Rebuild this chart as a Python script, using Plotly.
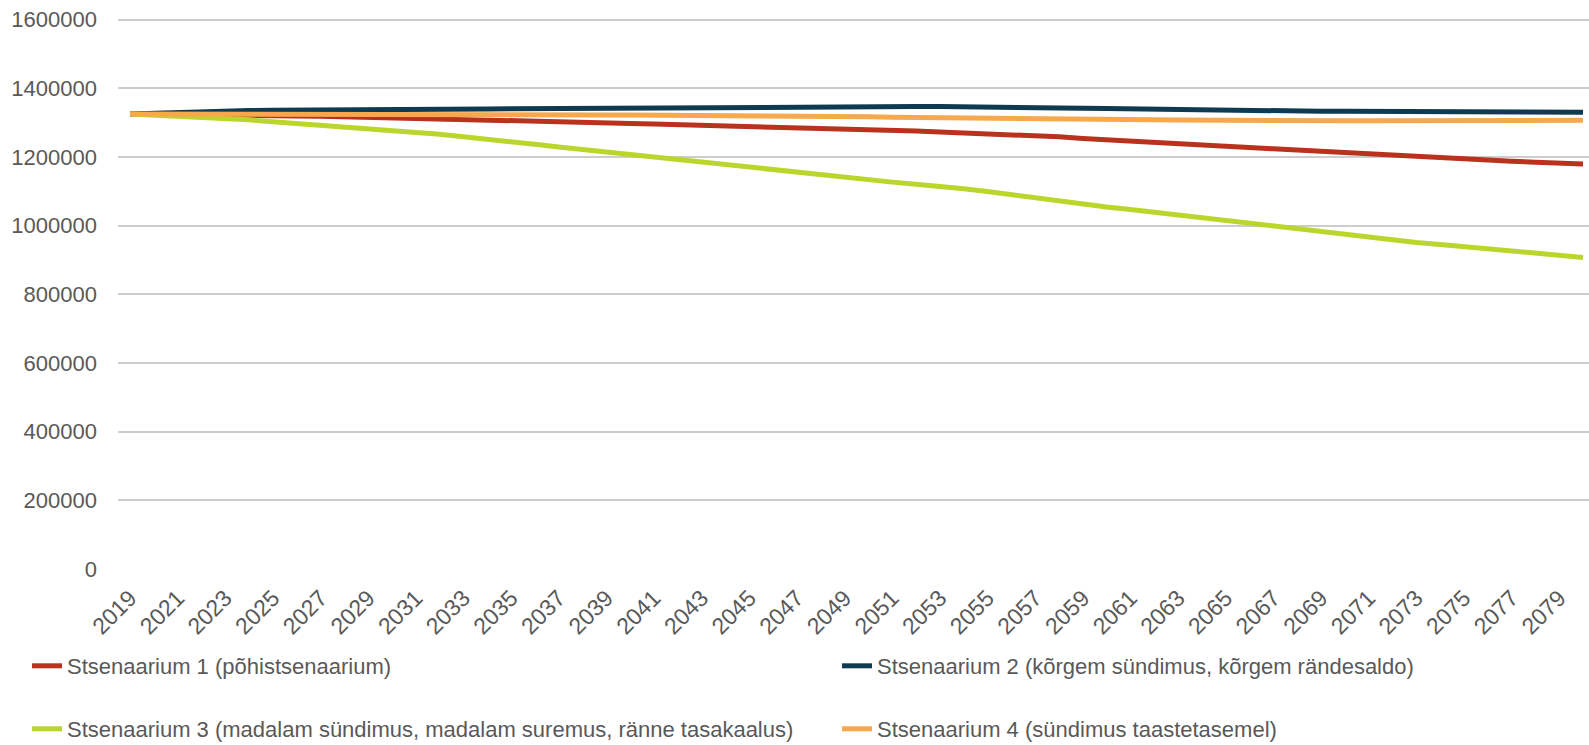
import plotly.graph_objects as go

years = list(range(2019, 2081))

s1_pohistsenaarium = [
    1324820, 1324500, 1324000, 1323300, 1322500, 1321500, 1320400, 1319200, 1318000, 1316700,
    1315400, 1314000, 1312700, 1311300, 1309900, 1308400, 1306800, 1305000, 1303000, 1301000,
    1299300, 1297500, 1295800, 1294200, 1292800, 1291200, 1289400, 1287400, 1285300, 1283200,
    1281300, 1279500, 1277400, 1275000, 1272600, 1270100, 1267500, 1264700, 1261600, 1258300,
    1253500, 1249300, 1245500, 1242500, 1237500, 1233800, 1230900, 1227400, 1223400, 1220000,
    1216000, 1212400, 1209000, 1205500, 1200600, 1197000, 1193500, 1190000, 1187200, 1184500,
    1182000, 1179400,
]

s2_korgem = [
    1324820, 1327500, 1330000, 1332000, 1333500, 1334800, 1335800, 1336600, 1337300, 1337900,
    1338400, 1338700, 1339000, 1339200, 1339300, 1339500, 1339800, 1340300, 1341000, 1341800,
    1342600, 1343300, 1344000, 1344700, 1345300, 1345800, 1346200, 1346500, 1346700, 1346800,
    1346800, 1346800, 1346700, 1346600, 1346500, 1346200, 1345700, 1344600, 1343400, 1342500,
    1341800, 1340500, 1339300, 1338400, 1337300, 1336200, 1335200, 1334500, 1333900, 1333400,
    1332900, 1332500, 1332100, 1331600, 1330400, 1329900, 1329700, 1329600, 1329600, 1329700,
    1329800, 1329900,
]

s3_madalam = [
    1324820, 1322000, 1319200, 1316400, 1312500, 1307800, 1302600, 1297400, 1292500, 1288000,
    1283800, 1279800, 1274000, 1266000, 1258500, 1250000, 1244000, 1236500, 1229000, 1221500,
    1214000, 1206800, 1199000, 1191000, 1183000, 1176000, 1169500, 1162000, 1156000, 1147000,
    1138500, 1132500, 1126500, 1120000, 1114500, 1107000, 1099000, 1090000, 1080500, 1069000,
    1060500, 1054000, 1047000, 1039000, 1029500, 1020500, 1012500, 1004500, 996500, 988000,
    979500, 971500, 965000, 957500, 951000, 945000, 939000, 932500, 926500, 920000,
    913500, 907000,
]

s4_taastetase = [
    1324820, 1324500, 1324200, 1323900, 1323600, 1323300, 1323000, 1322800, 1322600, 1322400,
    1322200, 1322100, 1322000, 1321900, 1321900, 1321900, 1321900, 1321900, 1321900, 1321900,
    1321900, 1321800, 1321700, 1321500, 1321200, 1320900, 1320600, 1320300, 1320000, 1319500,
    1318500, 1317000, 1315500, 1314500, 1314200, 1314000, 1314000, 1313700, 1312800, 1311500,
    1310500, 1310000, 1309200, 1308000, 1307500, 1306800, 1305500, 1305000, 1305000, 1305000,
    1305000, 1305000, 1305000, 1305000, 1305000, 1305000, 1305000, 1305000, 1305000, 1305000,
    1305000, 1306500,
]

names = [
    "Stsenaarium 1 (põhistsenaarium)",
    "Stsenaarium 2 (kõrgem sündimus, kõrgem rändesaldo)",
    "Stsenaarium 3 (madalam sündimus, madalam suremus, ränne tasakaalus)",
    "Stsenaarium 4 (sündimus taastetasemel)",
]
colors = ["#B8321D", "#0F3B52", "#BCD52B", "#F7A84D"]
series = [s1_pohistsenaarium, s2_korgem, s3_madalam, s4_taastetase]
legend_ids = ["legend", "legend2", "legend3", "legend4"]

y_ticks = list(range(0, 1600001, 200000))
x_ticks = years[::2]

FONT = "Liberation Sans, Arial, sans-serif"
TXT = "#595959"

fig = go.Figure()
for name, col, vals, lg in zip(names, colors, series, legend_ids):
    fig.add_trace(go.Scatter(
        x=years, y=vals, name=name, mode="lines",
        line=dict(color=col, width=5),
        legend=lg,
    ))

W, H = 1589, 745
ml, mr, mt, mb = 118, 0, 17, 176
pw = W - ml - mr
ph = H - mt - mb
px_per_year = 23.82
x0 = 2019 - (130 - ml) / px_per_year
x1 = x0 + pw / px_per_year
# y: 0 at pixel 569, 1600000 at pixel 19.5
val_per_px = 1600000 / (569 - 19.5)
y_top = (H - mb - mt) * val_per_px

def lx(px):
    return (px - ml) / pw

def ly(py):
    return (H - mb - py) / ph

legend_common = dict(
    orientation="h", xanchor="left", yanchor="middle",
    font=dict(family=FONT, size=22, color=TXT),
    bgcolor="rgba(0,0,0,0)", borderwidth=0,
)

fig.update_layout(
    width=W, height=H,
    margin=dict(l=ml, r=mr, t=mt, b=mb, autoexpand=False),
    paper_bgcolor="white", plot_bgcolor="white",
    font=dict(family=FONT, color=TXT),
    showlegend=True,
    legend=dict(x=lx(27), y=ly(666), **legend_common),
    legend2=dict(x=lx(837), y=ly(666), **legend_common),
    legend3=dict(x=lx(27), y=ly(729), **legend_common),
    legend4=dict(x=lx(837), y=ly(729), **legend_common),
    xaxis=dict(
        range=[x0, x1], tickmode="array", tickvals=x_ticks,
        ticktext=[str(v) for v in x_ticks], tickangle=-45,
        tickfont=dict(family=FONT, size=23, color=TXT),
        showgrid=False, zeroline=False, showline=False,
        ticks="", ticklabelstandoff=10,
    ),
    yaxis=dict(
        range=[0, y_top], tickmode="array", tickvals=y_ticks,
        ticktext=[str(v) for v in y_ticks],
        tickfont=dict(family=FONT, size=22, color=TXT),
        showgrid=True, gridcolor="#CDCDCD", gridwidth=2,
        zeroline=False, showline=False, ticks="", ticklabelstandoff=20,
    ),
)

fig.write_html(
    "out.html",
    config={"displayModeBar": False},
    post_script="document.body.style.margin='0px';",
)
